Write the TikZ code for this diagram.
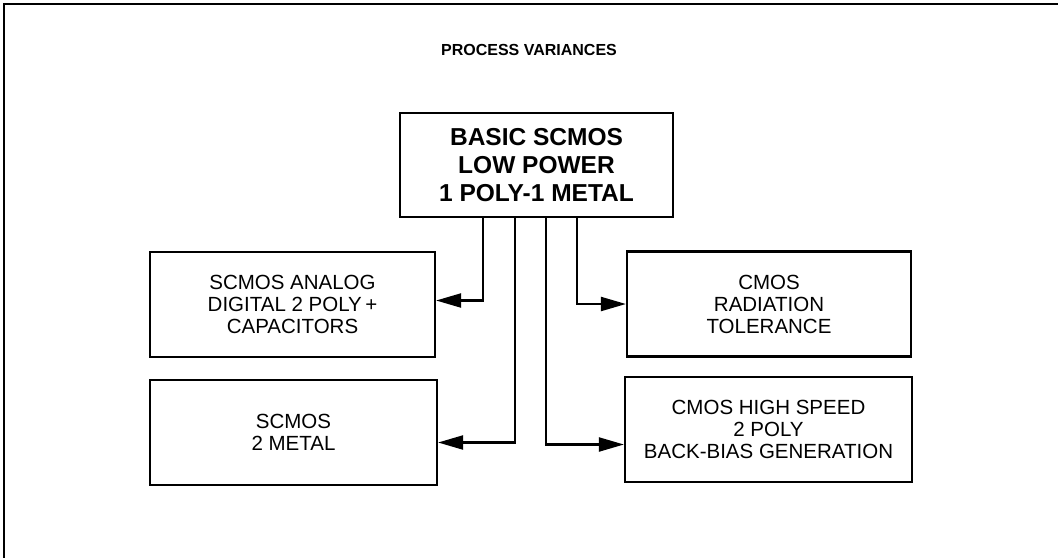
\documentclass[tikz,border=0pt]{standalone}
\usepackage{fontspec}
\setmainfont{Liberation Sans}
\usetikzlibrary{arrows.meta}

\begin{document}
\begin{tikzpicture}[x=1pt,y=-1pt,
    box/.style={draw,line width=2.2pt,minimum width=285pt,minimum height=105pt,align=center,inner sep=0pt,font=\fontsize{20.5}{22}\selectfont},
    feed/.style={line width=2.2pt,-{Triangle[length=25pt,width=14pt]}}]
    \useasboundingbox (0,0) rectangle (1058,558);
    \draw[line width=1.4pt] (1058,4) -- (4,4) -- (4,558);

    \node[font=\bfseries\fontsize{16}{18}\selectfont] (title) at (529,50) {PROCESS VARIANCES};
    \node[box,minimum width=273pt,minimum height=104pt,font=\bfseries\fontsize{24.5}{28}\selectfont] (basic) at (536.5,165) {BASIC SCMOS\\LOW POWER\\1 POLY-1 METAL};

    \node[box] (anadig) at (292.5,304.5) {SCMOS ANALOG\\DIGITAL 2 POLY\,+\\CAPACITORS};
    \node[box,minimum width=287pt] (twometal) at (293.5,432.5) {SCMOS\\2 METAL};
    \node[box,minimum width=284pt] (radtol) at (769,304) {CMOS\\RADIATION\\TOLERANCE};
    \node[box,minimum width=287pt] (highspeed) at (768.5,429.5) {CMOS HIGH SPEED\\2 POLY\\BACK-BIAS GENERATION};

    \draw[feed] ([xshift=-53.5pt]basic.south) |- ([yshift=4pt]anadig.east);
    \draw[feed] ([xshift=-21.5pt]basic.south) |- ([yshift=-10pt]twometal.east);
    \draw[feed] ([xshift=9.5pt]basic.south) |- ([yshift=-15pt]highspeed.west);
    \draw[feed] ([xshift=40.5pt]basic.south) |- (radtol.west);
\end{tikzpicture}
\end{document}
